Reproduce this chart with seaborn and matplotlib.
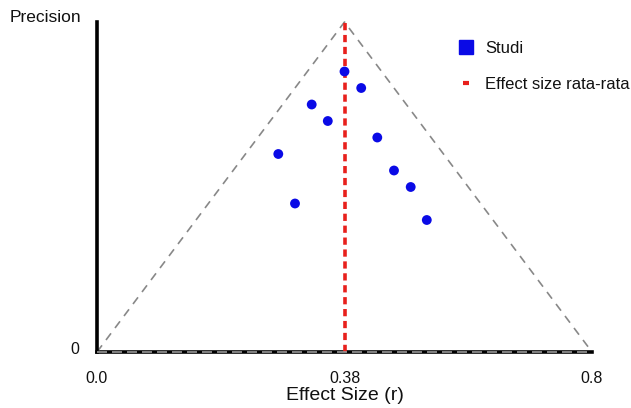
import matplotlib
matplotlib.use("Agg")
import matplotlib.pyplot as plt
import matplotlib.transforms as mtransforms
import seaborn as sns
import pandas as pd
from matplotlib.lines import Line2D

# Data
effect_size = [0.40, 0.427, 0.347, 0.373, 0.453, 0.293, 0.48, 0.507, 0.32, 0.533]
precision = [17, 16, 15, 14, 13, 12, 11, 10, 9, 8]
mean_effect_pos = 0.40
funnel_top = 20
x_ticks = [0.0, 0.40, 0.8]
x_tick_labels = ["0.0", "0.38", "0.8"]

sns.set_theme(style="white")
plt.rcParams["font.family"] = ["Liberation Sans", "DejaVu Sans"]
plt.rcParams["text.color"] = "#111111"
plt.rcParams["axes.labelcolor"] = "#111111"
plt.rcParams["xtick.color"] = "#111111"
plt.rcParams["ytick.color"] = "#111111"

fig = plt.figure(figsize=(6.31, 4.08), dpi=100)
ax = fig.add_axes([97/631, 1-352/408, 495/631, 330/408])

df = pd.DataFrame({"effect": effect_size, "precision": precision})

# funnel triangle
ax.plot([0, mean_effect_pos, 0.8], [0, funnel_top, 0], color="#888888",
        linestyle=(0, (5, 4)), linewidth=1.2, zorder=1, clip_on=False)
ax.plot([0, 0.8], [0, 0], color="#999999", linestyle=(0, (6, 3)),
        linewidth=1.2, zorder=4, clip_on=False)

# mean line
ax.plot([mean_effect_pos, mean_effect_pos], [0, funnel_top], color="#e8201c",
        linestyle=(0, (2, 1.3)), linewidth=2.6, zorder=2, clip_on=False)

sns.scatterplot(data=df, x="effect", y="precision", ax=ax, color="#0a0ae6",
                s=50, edgecolor="none", zorder=3, clip_on=False, legend=False)

ax.set_xlim(0, 0.8)
ax.set_ylim(0, funnel_top)
ax.set_xticks(x_ticks)
ax.set_xticklabels(x_tick_labels, fontsize=11.5)
ax.set_yticks([0])
ax.set_yticklabels(["0"], fontsize=11.5)
ax.tick_params(axis="x", length=0, pad=14)
ax.tick_params(axis="y", length=0, pad=13)
for lbl in ax.get_yticklabels():
    lbl.set_transform(lbl.get_transform() +
                      mtransforms.ScaledTranslation(0, 0.045, fig.dpi_scale_trans))

for s in ["top", "right"]:
    ax.spines[s].set_visible(False)
ax.spines["left"].set_color("black")
ax.spines["left"].set_linewidth(2.6)
ax.spines["bottom"].set_color("black")
ax.spines["bottom"].set_linewidth(2.6)
ax.spines["bottom"].set_zorder(0)

ax.set_xlabel("Effect Size (r)", fontsize=14, labelpad=0.5)
ax.set_ylabel("")
fig.text(10/631, 1-17/408, "Precision", fontsize=12.5, va="center", ha="left")

handles = [
    Line2D([0], [0], marker="s", color="none", markerfacecolor="#0a0ae6",
           markeredgecolor="#0a0ae6", markersize=9.5, label="Studi"),
    Line2D([0], [0], color="none", marker="_", markersize=4,
           markeredgewidth=3, markeredgecolor="#e8201c",
           label="Effect size rata-rata"),
]
ax.legend(handles=handles, loc="upper left",
          bbox_to_anchor=(458/631, 1-41/408), bbox_transform=fig.transFigure,
          frameon=False, fontsize=12, handlelength=1.0, handletextpad=0.62,
          labelspacing=1.28, borderpad=0, borderaxespad=0)

fig.savefig("out.png", dpi=100)
